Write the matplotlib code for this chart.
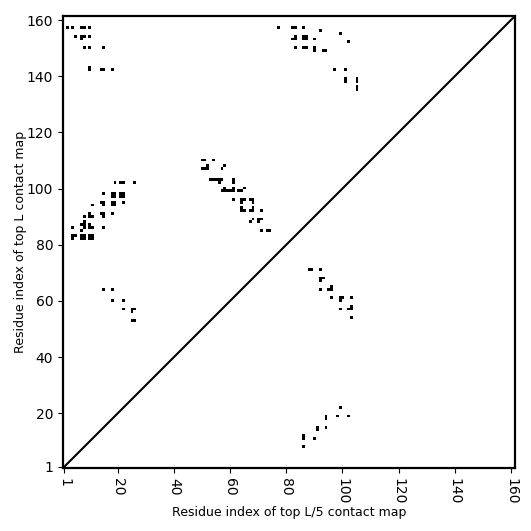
import numpy as np
import matplotlib
matplotlib.use("Agg")
import matplotlib.pyplot as plt

L = 161

# top L contacts (upper triangle), residue numbers 1-based
top_L_x = [2, 4, 7, 8, 10, 5, 7, 8, 10, 7, 8, 10, 15, 10, 10, 14, 15, 18,
           77, 82, 83, 86, 92, 99, 102, 83, 82, 83, 86, 87, 86, 87, 90,
           83, 86, 87, 90, 90, 93, 94, 97, 101, 101, 101, 105, 105, 105, 105,
           50, 51, 54, 50, 51, 52, 52, 57, 58,
           53, 54, 55, 56, 56, 57, 61, 61,
           57, 58, 58, 59, 60, 61, 61, 63, 64, 65,
           61, 64, 65, 64, 67, 68, 68, 64, 64, 65, 68, 67, 68, 71,
           67, 68, 70, 71, 70, 71, 73, 74,
           19, 21, 22, 26, 15, 18, 18, 19, 19, 21, 21, 22, 22,
           11, 15, 14, 15, 18, 18, 19, 19, 22,
           8, 10, 10, 11, 14, 15, 15, 18,
           4, 8, 7, 8, 8, 7, 10, 10, 11, 15,
           4, 5, 4, 7, 8, 7, 8, 10, 11, 10, 11,
           15, 18, 18, 22, 22, 25, 26, 25, 25, 26]
top_L_y = [157, 157, 157, 157, 157, 154, 154, 154, 154, 153, 150, 150, 150, 142, 143, 142, 142, 142,
           157, 157, 157, 157, 156, 155, 152, 154, 153, 153, 153, 153, 154, 154, 153,
           150, 150, 150, 149, 150, 149, 149, 142, 142, 138, 139, 138, 139, 135, 136,
           110, 110, 110, 107, 107, 107, 108, 107, 108,
           103, 103, 103, 102, 103, 103, 102, 103,
           99, 99, 100, 99, 99, 99, 100, 99, 99, 100,
           96, 96, 96, 95, 96, 96, 95, 93, 92, 92, 93, 92, 92, 92,
           88, 89, 89, 89, 88, 85, 85, 85,
           102, 102, 102, 102, 98, 97, 98, 97, 98, 97, 98, 97, 98,
           94, 94, 95, 95, 94, 95, 94, 95, 95,
           90, 91, 90, 90, 91, 91, 90, 91,
           86, 88, 87, 87, 86, 85, 87, 86, 86, 86,
           83, 83, 82, 82, 82, 83, 83, 82, 82, 83, 83,
           64, 64, 60, 60, 57, 57, 57, 56, 53, 53]

# top L/5 contacts (lower triangle)
top_L5_x = [88, 89, 92, 92, 93, 92, 92, 96, 95, 96,
            96, 99, 100, 99, 103, 99, 103, 102, 103, 103,
            99, 94, 94, 98, 102, 91, 91, 94, 86, 86, 90, 86]
top_L5_y = [71, 71, 71, 68, 68, 67, 64, 65, 64, 64,
            61, 61, 61, 60, 61, 57, 58, 57, 57, 54,
            22, 19, 18, 19, 19, 14, 15, 15, 11, 12, 11, 8]

tick_labels = [1, 20, 40, 60, 80, 100, 120, 140, 160]

cmap = np.zeros((L, L))
for x, y in zip(top_L_x, top_L_y):
    cmap[y - 1, x - 1] = 1
for x, y in zip(top_L5_x, top_L5_y):
    cmap[y - 1, x - 1] = 1

fig = plt.figure(figsize=(5.31, 5.31), dpi=100)
ax = fig.add_axes([0.1186, 0.1186, 0.8516, 0.8516])
ax.imshow(cmap, cmap='Greys', origin='lower', interpolation='nearest',
          vmin=0, vmax=1, aspect='auto')
ax.plot([-0.5, L - 0.5], [-0.5, L - 0.5], color='black', linewidth=1.5)
ax.set_xlim(-0.5, L - 0.5)
ax.set_ylim(-0.5, L - 0.5)

pos = [t - 1 for t in tick_labels]
ax.set_xticks(pos)
ax.set_xticklabels(tick_labels, rotation=-90)
ax.set_yticks(pos)
ax.set_yticklabels(tick_labels)
for s in ax.spines.values():
    s.set_linewidth(1.6)

ax.set_xlabel('Residue index of top L/5 contact map', fontsize=9, labelpad=1)
ax.set_ylabel('Residue index of top L contact map', fontsize=9, labelpad=0)

fig.savefig('out.png', dpi=100)
